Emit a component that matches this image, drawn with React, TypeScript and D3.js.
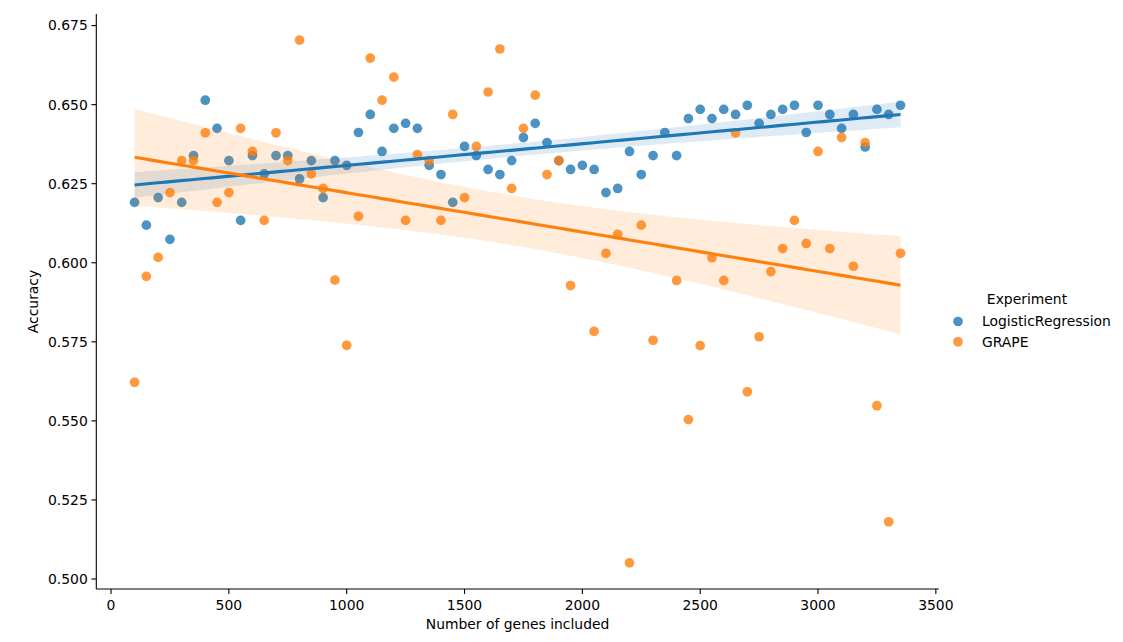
import React from "react";
import * as d3 from "d3";

const genes = [100,150,200,250,300,350,400,450,500,550,600,650,700,750,800,850,900,950,1000,1050,1100,1150,1200,1250,1300,1350,1400,1450,1500,1550,1600,1650,1700,1750,1800,1850,1900,1950,2000,2050,2100,2150,2200,2250,2300,2350,2400,2450,2500,2550,2600,2650,2700,2750,2800,2850,2900,2950,3000,3050,3100,3150,3200,3250,3300,3350];

const logisticRegression = [0.6191,0.6119,0.6206,0.6074,0.6191,0.6339,0.6514,0.6425,0.6323,0.6134,0.6339,0.6281,0.6339,0.6339,0.6265,0.6323,0.6206,0.6323,0.6308,0.6412,0.6469,0.6352,0.6425,0.6441,0.6425,0.6308,0.6279,0.6191,0.6368,0.6339,0.6295,0.6279,0.6323,0.6396,0.6441,0.6380,0.6323,0.6295,0.6308,0.6295,0.6222,0.6235,0.6352,0.6279,0.6339,0.6412,0.6339,0.6456,0.6485,0.6456,0.6485,0.6469,0.6498,0.6441,0.6469,0.6485,0.6498,0.6412,0.6498,0.6469,0.6425,0.6469,0.6366,0.6485,0.6469,0.6498];

const grape = [0.5622,0.5957,0.6017,0.6222,0.6323,0.6323,0.6411,0.6191,0.6222,0.6425,0.6352,0.6134,0.6411,0.6323,0.6704,0.6281,0.6235,0.5945,0.5739,0.6147,0.6647,0.6514,0.6587,0.6134,0.6342,0.6323,0.6134,0.6469,0.6206,0.6368,0.6540,0.6676,0.6235,0.6425,0.6530,0.6279,0.6323,0.5928,null,0.5783,0.6030,0.6090,0.5051,0.6119,0.5755,null,0.5944,0.5504,0.5738,0.6016,0.5944,0.6411,0.5592,0.5766,0.5972,0.6045,0.6134,0.6061,0.6352,0.6045,0.6396,0.5989,0.6380,0.5548,0.5181,0.6030];

const seriesNames = ["LogisticRegression", "GRAPE"];
const seriesColors = ["#1f77b4", "#ff7f0e"];
const xTicks = [0, 500, 1000, 1500, 2000, 2500, 3000, 3500];
const yTicks = [0.5, 0.525, 0.55, 0.575, 0.6, 0.625, 0.65, 0.675];

const FONT = "DejaVu Sans, sans-serif";
const FS = 13.9;

type Pt = { x: number; y: number };

function fit(points: Pt[]) {
  const n = points.length;
  const mx = d3.mean(points, (p) => p.x)!;
  const my = d3.mean(points, (p) => p.y)!;
  let sxx = 0, sxy = 0;
  points.forEach((p) => { sxx += (p.x - mx) ** 2; sxy += (p.x - mx) * (p.y - my); });
  const b = sxy / sxx;
  const a = my - b * mx;
  let sse = 0;
  points.forEach((p) => { sse += (p.y - (a + b * p.x)) ** 2; });
  const s = Math.sqrt(sse / (n - 2));
  const t = 1.999;
  const [x0, x1] = d3.extent(points, (p) => p.x) as [number, number];
  const grid = d3.range(100).map((i) => x0 + (x1 - x0) * i / 99);
  return grid.map((x) => {
    const yhat = a + b * x;
    const se = s * Math.sqrt(1 / n + (x - mx) ** 2 / sxx);
    return { x, yhat, lo: yhat - t * se, hi: yhat + t * se };
  });
}

export default function App() {
  const W = 1123, H = 642;
  const L = 96.3, R = 938.8, T = 14, B = 589;

  const series = [logisticRegression, grape].map((vals, i) => ({
    name: seriesNames[i],
    color: seriesColors[i],
    pts: genes.map((g, j) => ({ x: g, y: vals[j] as number | null }))
      .filter((p) => p.y !== null) as Pt[],
  }));

  const allX = series.flatMap((s) => s.pts.map((p) => p.x));
  const allY = series.flatMap((s) => s.pts.map((p) => p.y));
  const [xmn, xmx] = d3.extent(allX) as [number, number];
  const [ymn, ymx] = d3.extent(allY) as [number, number];
  const xpad = (xmx - xmn) * 0.05, ypad = (ymx - ymn) * 0.05;

  const x = d3.scaleLinear().domain([xmn - xpad, xmx + xpad]).range([L, R]);
  const y = d3.scaleLinear().domain([ymn - ypad, ymx + ypad]).range([B, T]);

  const fits = series.map((s) => fit(s.pts));
  const area = d3.area<any>().x((d) => x(d.x)).y0((d) => y(d.lo)).y1((d) => y(d.hi));
  const line = d3.line<any>().x((d) => x(d.x)).y((d) => y(d.yhat));

  const r = 4.85;

  return (
    <svg width={W} height={H} style={{ position: "absolute", left: 0, top: 0, background: "#fff" }}
      fontFamily={FONT}>
      <rect x={0} y={0} width={W} height={H} fill="#fff" />
      {series.map((s, i) => (
        <g key={s.name}>
          <g>
            {s.pts.map((p, j) => (
              <circle key={j} cx={x(p.x)} cy={y(p.y)} r={r} fill={s.color} fillOpacity={0.8} />
            ))}
          </g>
          <path d={area(fits[i])!} fill={s.color} fillOpacity={0.15} stroke="none" />
        </g>
      ))}
      {series.map((s, i) => (
        <path key={s.name} d={line(fits[i])!} fill="none" stroke={s.color} strokeWidth={3.125} />
      ))}

      {/* spines */}
      <line x1={L} x2={L} y1={T} y2={B} stroke="#000" strokeWidth={1.1} />
      <line x1={L} x2={R} y1={B} y2={B} stroke="#000" strokeWidth={1.1} />

      {xTicks.map((t) => (
        <g key={t} transform={`translate(${x(t)},${B})`}>
          <line y1={0} y2={4.9} stroke="#000" strokeWidth={1.1} />
          <text y={20.5} textAnchor="middle" fontSize={FS} fill="#000">{t}</text>
        </g>
      ))}
      {yTicks.map((t) => (
        <g key={t} transform={`translate(${L},${y(t)})`}>
          <line x1={0} x2={-4.9} stroke="#000" strokeWidth={1.1} />
          <text x={-8.5} dy="0.35em" textAnchor="end" fontSize={FS} fill="#000">{d3.format(".3f")(t)}</text>
        </g>
      ))}

      <text x={(L + R) / 2} y={629} textAnchor="middle" fontSize={FS} fill="#000">Number of genes included</text>
      <text transform={`translate(38,${(T + B) / 2}) rotate(-90)`} textAnchor="middle" fontSize={FS} fill="#000">Accuracy</text>

      {/* legend */}
      <text x={1027} y={304} textAnchor="middle" fontSize={FS} fill="#000">Experiment</text>
      {series.map((s, i) => (
        <g key={s.name} transform={`translate(0,${321.5 + i * 20.3})`}>
          <circle cx={958} cy={0} r={r} fill={s.color} fillOpacity={0.8} />
          <text x={982} dy="0.35em" fontSize={FS} fill="#000">{s.name}</text>
        </g>
      ))}
    </svg>
  );
}
